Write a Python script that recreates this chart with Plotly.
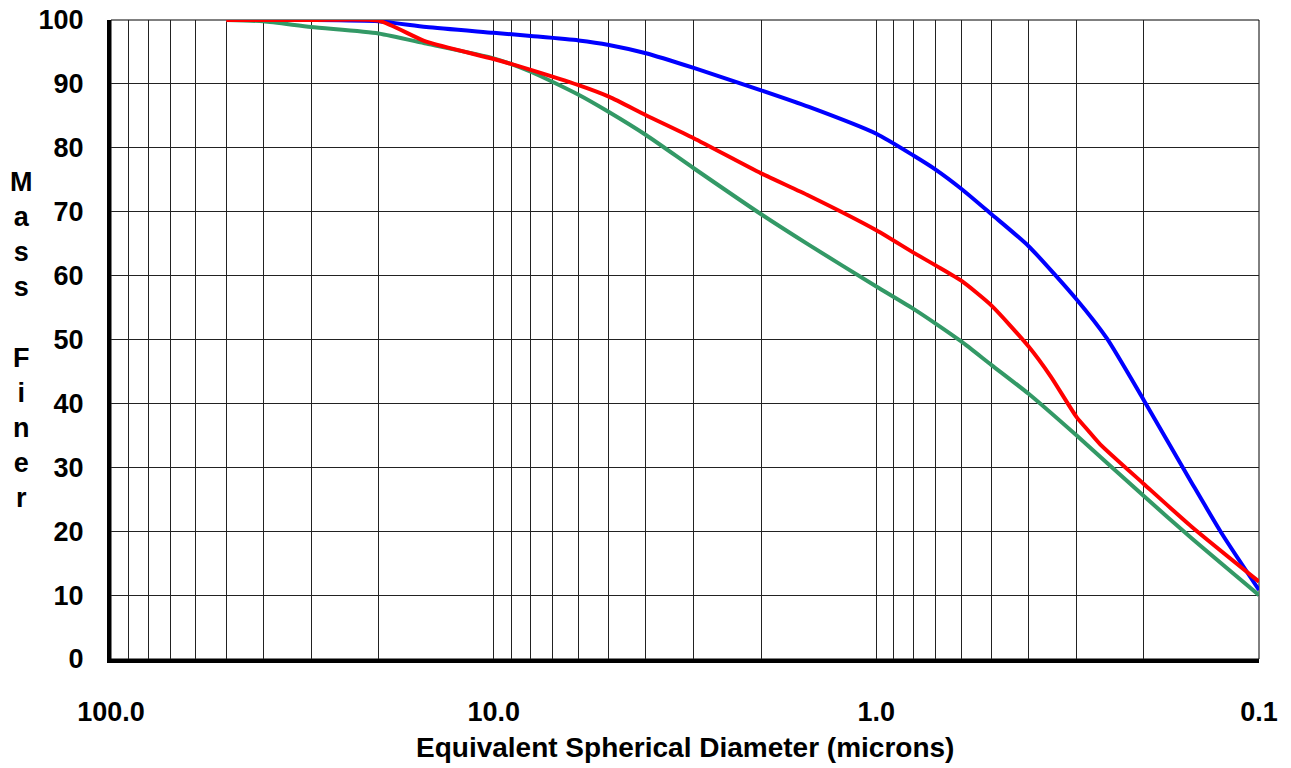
import plotly.graph_objects as go

# ---- data ----
diam_blue = [50, 40, 30, 20, 15, 10, 8, 6, 5, 4, 3, 2, 1.5, 1, 0.8, 0.7, 0.6, 0.5, 0.4, 0.3, 0.25, 0.2, 0.15, 0.125, 0.1]
mass_blue = [100, 100, 100, 99.8, 98.9, 98.0, 97.5, 96.8, 96.1, 94.8, 92.5, 89.0, 86.4, 82.2, 78.8, 76.6, 73.6, 69.6, 64.6, 56.3, 50.2, 40.5, 27.6, 19.6, 10.8]

diam_red = [50, 30, 20, 15, 10, 8, 6, 5, 4, 3, 2, 1.5, 1, 0.8, 0.7, 0.6, 0.5, 0.4, 0.35, 0.3, 0.28, 0.26, 0.2, 0.15, 0.1]
mass_red = [100, 100, 99.9, 96.6, 93.9, 92.2, 89.8, 88.0, 85.1, 81.5, 76.0, 72.5, 67.1, 63.6, 61.6, 59.2, 55.3, 48.9, 44.2, 37.9, 35.8, 33.6, 27.4, 20.7, 12.1]

diam_green = [50, 40, 30, 20, 15, 10, 8, 6, 5, 4, 3, 2, 1.5, 1, 0.8, 0.7, 0.6, 0.5, 0.4, 0.3, 0.2, 0.15, 0.1]
mass_green = [100, 99.8, 98.9, 97.9, 96.3, 94.0, 91.9, 88.3, 85.6, 82.0, 76.8, 69.6, 64.8, 58.3, 54.8, 52.5, 49.7, 46.0, 41.5, 35.0, 25.5, 18.9, 10.0]

x_grid_vals = [100, 90, 80, 70, 60, 50, 40, 30, 20,
               10, 9, 8, 7, 6, 5, 4, 3, 2,
               1, 0.9, 0.8, 0.7, 0.6, 0.5, 0.4, 0.3, 0.2, 0.1]
x_label_map = {100: "100.0", 10: "10.0", 1: "1.0", 0.1: "0.1"}
x_tick_text = [x_label_map.get(v, "") for v in x_grid_vals]
y_tick_vals = [0, 10, 20, 30, 40, 50, 60, 70, 80, 90, 100]

x_title = "Equivalent Spherical Diameter (microns)"
y_title = "M<br>a<br>s<br>s<br> <br>F<br>i<br>n<br>e<br>r"

FONT = "Liberation Sans, Arial, sans-serif"

fig = go.Figure()
for xs, ys, col in [(diam_blue, mass_blue, "#0000FF"),
                    (diam_green, mass_green, "#339966"),
                    (diam_red, mass_red, "#FF0000")]:
    fig.add_trace(go.Scatter(x=xs, y=ys, mode="lines",
                             line=dict(color=col, width=4, shape="spline", smoothing=0.6),
                             showlegend=False, hoverinfo="skip"))

fig.update_layout(
    width=1291, height=768,
    margin=dict(l=111, r=32, t=20, b=109),
    paper_bgcolor="white", plot_bgcolor="white",
    font=dict(family=FONT, size=27, color="black"),
    xaxis=dict(type="log", range=[2, -1], automargin=False,
               tickmode="array", tickvals=x_grid_vals, ticktext=x_tick_text,
               showgrid=True, gridcolor="#222222", gridwidth=1,
               showline=True, linecolor="black", linewidth=4,
               ticks="", ticklabelstandoff=26,
               tickfont=dict(family=FONT, size=27, weight="bold", color="black"),
               zeroline=False),
    yaxis=dict(range=[0, 100], automargin=False,
               tickmode="array", tickvals=y_tick_vals,
               showgrid=True, gridcolor="#222222", gridwidth=1,
               showline=True, linecolor="black", linewidth=4,
               ticks="", ticklabelstandoff=18,
               tickfont=dict(family=FONT, size=27, weight="bold", color="black"),
               zeroline=False),
    shapes=[dict(type="rect", xref="paper", yref="paper", x0=0, x1=1, y0=0, y1=1,
                 line=dict(color="black", width=1), layer="below")],
    annotations=[
        dict(text=x_title, xref="paper", yref="paper", x=0.5, y=-0.139,
             xanchor="center", yanchor="middle", showarrow=False,
             font=dict(family=FONT, size=28, weight="bold", color="black")),
        dict(text=y_title, xref="paper", yref="paper", x=-0.078, y=0.5,
             xanchor="center", yanchor="middle", showarrow=False, align="center",
             font=dict(family=FONT, size=27, weight="bold", color="black")),
    ],
)

fig.write_html("out.html", config={"displayModeBar": False},
               post_script="document.body.style.margin='0';document.body.style.padding='0';")
